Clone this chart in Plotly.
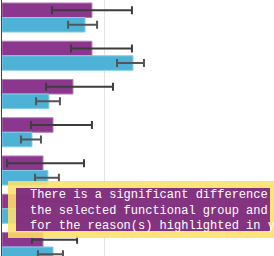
import plotly.graph_objects as go

# Categories (labels are cropped out of the reference view)
categories = ["Reason 1", "Reason 2", "Reason 3", "Reason 4", "Reason 5", "Reason 6", "Reason 7"]

# Series A (purple): value, lower and upper interval bounds
group_vals = [44.1, 44.1, 34.8, 25.0, 20.1, 17.6, 20.1]
group_low = [24.5, 33.8, 21.6, 14.2, 2.5, 7.8, 14.7]
group_high = [63.7, 63.7, 54.4, 44.1, 40.2, 35.8, 36.8]

# Series B (blue): value, lower and upper interval bounds
all_vals = [40.7, 64.2, 23.0, 14.7, 22.5, 11.3, 25.0]
all_low = [32.4, 56.4, 16.7, 9.3, 16.2, 7.8, 17.6]
all_high = [46.6, 69.6, 28.4, 19.1, 27.9, 13.7, 29.9]

tooltip_lines = [
    "There is a significant difference",
    "the selected functional group and",
    "for the reason(s) highlighted in y",
]

W, H = 274, 256
ML = 2

def plus(v, hi):
    return [h - x for x, h in zip(v, hi)]

def minus(v, lo):
    return [x - l for x, l in zip(v, lo)]

fig = go.Figure()
fig.add_trace(go.Bar(
    y=categories, x=group_vals, orientation="h", name="Group",
    marker=dict(color="#8a378d", line=dict(color="#b77db8", width=1)),
    error_x=dict(type="data", symmetric=False,
                 array=plus(group_vals, group_high),
                 arrayminus=minus(group_vals, group_low),
                 color="#3d3d3d", thickness=2, width=4),
))
fig.add_trace(go.Bar(
    y=categories, x=all_vals, orientation="h", name="All",
    marker=dict(color="#4eb2d6", line=dict(color="#86cde6", width=1)),
    error_x=dict(type="data", symmetric=False,
                 array=plus(all_vals, all_high),
                 arrayminus=minus(all_vals, all_low),
                 color="#555555", thickness=2, width=4),
))

pw = W - ML

def px2paper_x(px):
    return (px - ML) / pw

def py2paper_y(py):
    return 1 - py / H

fig.update_layout(
    width=W, height=H,
    margin=dict(l=ML, r=0, t=0, b=0),
    paper_bgcolor="white", plot_bgcolor="white",
    barmode="group", bargap=0.24, bargroupgap=0,
    showlegend=False,
    xaxis=dict(range=[0, (W - ML) / 2.04], tickvals=[50], showticklabels=False,
               showgrid=True, gridcolor="#e4e4e4", gridwidth=1, zeroline=False,
               ticks="", showline=False, fixedrange=True),
    yaxis=dict(range=[6.235, -0.4575], showticklabels=False, ticks="",
               showline=True, linecolor="#444444", linewidth=1,
               showgrid=False, zeroline=False, fixedrange=True),
    shapes=[
        dict(type="rect", xref="paper", yref="paper", layer="above",
             x0=px2paper_x(8), x1=px2paper_x(285), y0=py2paper_y(238), y1=py2paper_y(181),
             fillcolor="rgba(252,224,105,0.88)", line=dict(width=0)),
        dict(type="rect", xref="paper", yref="paper", layer="above",
             x0=px2paper_x(16), x1=px2paper_x(270), y0=py2paper_y(231), y1=py2paper_y(188),
             fillcolor="rgba(122,36,128,0.92)", line=dict(width=0)),
    ],
    annotations=[
        dict(xref="paper", yref="paper", x=px2paper_x(28), y=py2paper_y(210),
             xanchor="left", yanchor="middle", align="left", showarrow=False,
             text="<br>".join(tooltip_lines),
             font=dict(family="Liberation Mono, Courier New, monospace", size=12, color="white")),
    ],
)

fig.write_html("out.html", config={"displayModeBar": False})
